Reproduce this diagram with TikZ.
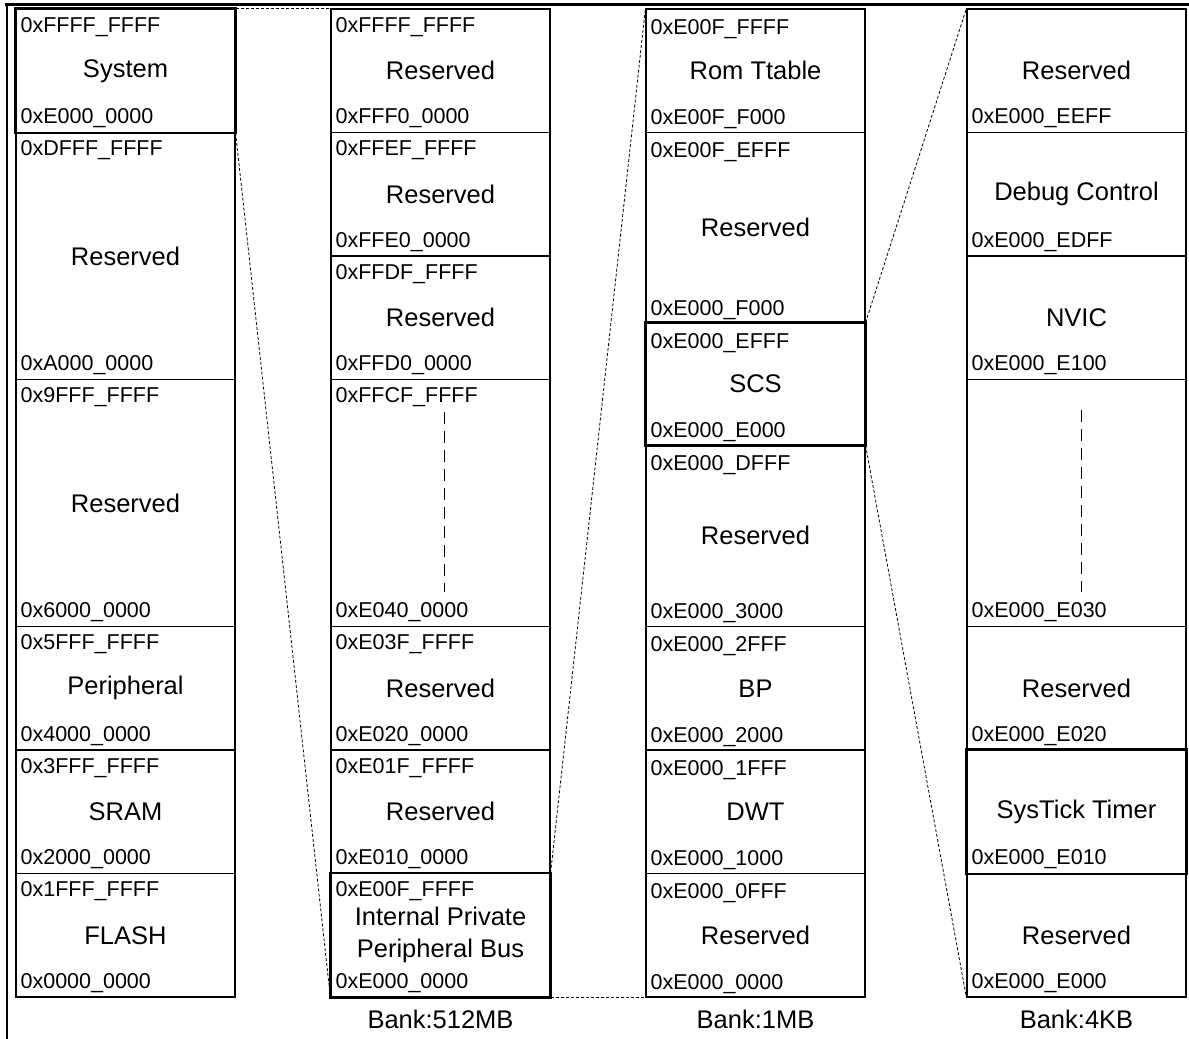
\documentclass[tikz,border=0pt]{standalone}
\usepackage{fontspec}
\setmainfont{Liberation Sans}
\usetikzlibrary{positioning}
\tikzset{
  cell/.style={
    draw,
    shape = rectangle,
    line width = 1.2pt,
    inner sep = 0pt,
    minimum width = 219pt,
    align = center,
    font = \fontsize{25.5}{32}\selectfont
  },
  hot/.style={
    line width = 2.6pt
  },
  addrhi/.style={
    anchor = base west,
    inner sep = 0pt,
    xshift = 5pt,
    yshift = -24pt,
    font = \fontsize{21.5}{24}\selectfont
  },
  addrlo/.style={
    anchor = base west,
    inner sep = 0pt,
    xshift = 5pt,
    yshift = 9.5pt,
    font = \fontsize{21.5}{24}\selectfont
  },
  gapline/.style={
    line width = 1.5pt,
    dash pattern = on 12pt off 7pt
  },
  zoomline/.style={
    line width = 0.8pt,
    dash pattern = on 3pt off 2pt
  },
  bank/.style={
    inner sep = 0pt,
    font = \fontsize{25.5}{30}\selectfont
  }
}

\begin{document}
\begin{tikzpicture}[x=1pt, y=-1pt]
    \useasboundingbox (0,0) rectangle (1189,1039);
    \draw[line width=3pt] (5,4.5) -- (1189,4.5);
    \draw[line width=2pt] (7,4.5) -- (7,1039);
    % whole address space
    \foreach \i/\yt/\yb/\hi/\lo/\txt in {
        1/9/132.5/0xFFFF\_FFFF/0xE000\_0000/System,
        2/132.5/379.5/0xDFFF\_FFFF/0xA000\_0000/Reserved,
        3/379.5/626.5/0x9FFF\_FFFF/0x6000\_0000/Reserved,
        4/626.5/750/0x5FFF\_FFFF/0x4000\_0000/Peripheral,
        5/750/873.5/0x3FFF\_FFFF/0x2000\_0000/SRAM,
        6/873.5/997/0x1FFF\_FFFF/0x0000\_0000/FLASH}{
            \pgfmathsetmacro\cellh{\yb-\yt}
            \pgfmathsetmacro\cellm{(\yt+\yb)/2}
            \node[cell, minimum height=\cellh pt] (c1r\i) at (125.5,\cellm) {\txt};
            \node[addrhi] at (c1r\i.north west) {\hi};
            \node[addrlo] at (c1r\i.south west) {\lo};
        }
    % system bank
    \foreach \i/\yt/\yb/\hi/\lo/\txt in {
        1/9/132.5/0xFFFF\_FFFF/0xFFF0\_0000/Reserved,
        2/132.5/256/0xFFEF\_FFFF/0xFFE0\_0000/Reserved,
        3/256/379.5/0xFFDF\_FFFF/0xFFD0\_0000/Reserved,
        4/379.5/626.5/0xFFCF\_FFFF/0xE040\_0000/{},
        5/626.5/750/0xE03F\_FFFF/0xE020\_0000/Reserved,
        6/750/873.5/0xE01F\_FFFF/0xE010\_0000/Reserved,
        7/873.5/997/0xE00F\_FFFF/0xE000\_0000/{Internal Private\\Peripheral Bus}}{
            \pgfmathsetmacro\cellh{\yb-\yt}
            \pgfmathsetmacro\cellm{(\yt+\yb)/2}
            \node[cell, minimum height=\cellh pt] (c2r\i) at (440.5,\cellm) {\txt};
            \node[addrhi] at (c2r\i.north west) {\hi};
            \node[addrlo] at (c2r\i.south west) {\lo};
        }
    % private peripheral bus
    \foreach \i/\yt/\yb/\hi/\lo/\txt in {
        1/9/132.5/0xE00F\_FFFF/0xE00F\_F000/Rom Ttable,
        2/132.5/323/0xE00F\_EFFF/0xE000\_F000/Reserved,
        3/323/445/0xE000\_EFFF/0xE000\_E000/SCS,
        4/445/626.5/0xE000\_DFFF/0xE000\_3000/Reserved,
        5/626.5/750/0xE000\_2FFF/0xE000\_2000/BP,
        6/750/873.5/0xE000\_1FFF/0xE000\_1000/DWT,
        7/873.5/997/0xE000\_0FFF/0xE000\_0000/Reserved}{
            \pgfmathsetmacro\cellh{\yb-\yt}
            \pgfmathsetmacro\cellm{(\yt+\yb)/2}
            \node[cell, minimum height=\cellh pt] (c3r\i) at (755.5,\cellm) {\txt};
            \node[addrhi, yshift=-2pt] at (c3r\i.north west) {\hi};
            \node[addrlo, yshift=-1pt] at (c3r\i.south west) {\lo};
        }
    % system control space
    \foreach \i/\yt/\yb/\lo/\txt in {
        1/9/132.5/0xE000\_EEFF/Reserved,
        2/132.5/256/0xE000\_EDFF/Debug Control,
        3/256/379.5/0xE000\_E100/NVIC,
        4/379.5/626.5/0xE000\_E030/{},
        5/626.5/750/0xE000\_E020/Reserved,
        6/750/873.5/0xE000\_E010/SysTick Timer,
        7/873.5/997/0xE000\_E000/Reserved}{
            \pgfmathsetmacro\cellh{\yb-\yt}
            \pgfmathsetmacro\cellm{(\yt+\yb)/2}
            \node[cell, minimum height=\cellh pt] (c4r\i) at (1076.5,\cellm) {\txt};
            \node[addrlo] at (c4r\i.south west) {\lo};
        }
    \draw[gapline] ([xshift=4pt, yshift=-33pt]c2r4.north) -- ([xshift=4pt, yshift=35pt]c2r4.south);
    \draw[gapline] ([xshift=5pt, yshift=-31pt]c4r4.north) -- ([xshift=5pt, yshift=35pt]c4r4.south);
    % highlighted regions
    \draw[hot] (c1r1.north west) rectangle (c1r1.south east);
    \draw[hot] (c2r7.north west) rectangle (c2r7.south east);
    \draw[hot] (c3r3.north west) rectangle (c3r3.south east);
    \draw[hot] (c4r6.north west) rectangle (c4r6.south east);
    % zoom lines
    \draw[zoomline] (c1r1.north east) -- (c2r1.north west);
    \draw[zoomline] (c1r1.south east) -- (c2r7.south west);
    \draw[zoomline] (c2r7.north east) -- (c3r1.north west);
    \draw[zoomline] (c2r7.south east) -- (c3r7.south west);
    \draw[zoomline] (c3r3.north east) -- (c4r1.north west);
    \draw[zoomline] (c3r3.south east) -- (c4r7.south west);
    \node[bank, below=12pt of c2r7] (bank2) {Bank:512MB};
    \node[bank, below=12pt of c3r7] (bank3) {Bank:1MB};
    \node[bank, below=12pt of c4r7] (bank4) {Bank:4KB};
\end{tikzpicture}
\end{document}
